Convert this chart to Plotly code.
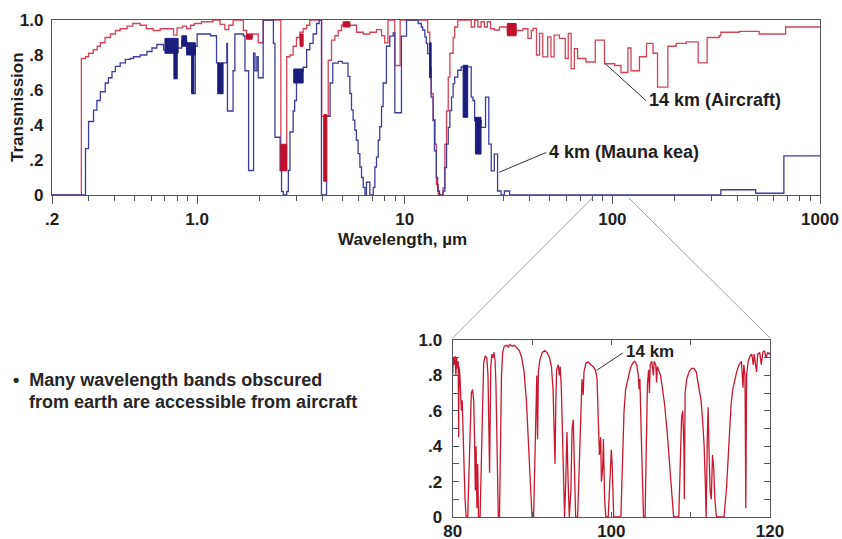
import math
import plotly.graph_objects as go

W, H = 842, 539
FONT = "Liberation Sans, Arial, Helvetica, sans-serif"
TXT = "#1e1e1e"

# ---------------- data: main chart (step spectra) ----------------
red_wl = [0.20, 0.277, 0.29, 0.30, 0.316, 0.33, 0.342, 0.36, 0.382, 0.404, 0.426, 0.46, 0.49,
          0.532, 0.57, 0.615, 0.664, 0.77, 0.80, 0.85, 0.89, 0.93, 0.97, 1.05, 1.19, 1.29, 1.36,
          1.42, 1.49, 1.67, 1.73, 1.84, 1.97, 2.08, 2.53, 2.70, 2.80, 2.90, 3.01, 3.13, 3.24, 3.37,
          3.49, 3.98, 4.08, 4.20, 4.28, 4.44, 4.61, 4.78, 4.96, 5.05, 5.44, 5.86, 6.31, 6.79, 7.31,
          7.73, 8.01, 8.3, 8.95, 9.5, 12.9, 13.2, 13.4, 13.7, 14.0, 14.2, 14.5, 15.3, 15.6, 15.9,
          16.2, 16.5, 17.1, 17.4, 18.0, 20.9, 21.7, 22.5, 23.3, 24.2, 25.0, 25.9, 27.0, 28.6, 31.2,
          34.4, 37.1, 39.2, 40.7, 41.5, 43.1, 44.6, 46.2, 48.8, 50.6, 52.4, 55.6, 59.3, 61.3, 63.3,
          65.6, 68.0, 74.6, 82.7, 91.6, 102.6, 110, 118.8, 123, 135, 146, 157, 165, 185, 203, 227,
          259, 286, 327, 333, 408, 509, 683, 1000]
red_tr = [0.0, 0.78, 0.79, 0.81, 0.83, 0.85, 0.87, 0.90, 0.92, 0.94, 0.95, 0.965, 0.98,
          0.97, 0.95, 0.94, 0.95, 0.914, 0.955, 0.965, 0.95, 0.97, 0.98, 0.99, 1.0, 0.975, 0.945,
          0.97, 1.0, 0.94, 0.90, 0.92, 0.87, 1.0, 0.14, 0.79, 0.80, 0.85, 0.90, 0.93, 0.95, 0.97,
          1.0, 0.45, 0.08, 0.45, 0.77, 0.885, 0.91, 0.94, 0.97, 0.975, 0.97, 0.93, 0.92, 0.93, 0.945,
          0.91, 0.87, 1.0, 0.74, 1.0, 0.93, 0.73, 0.58, 0.43, 0.29, 0.06, 0.0, 0.04, 0.29, 0.48,
          0.674, 0.81, 0.90, 0.96, 1.0, 0.96, 1.0, 0.96, 0.99, 0.96, 0.99, 0.95, 0.943, 0.96, 0.93,
          0.94, 0.95, 0.895, 0.94, 0.952, 0.80, 0.924, 0.789, 0.904, 0.789, 0.914, 0.895, 0.78, 0.924, 0.722,
          0.837, 0.78, 0.76, 0.885, 0.75, 0.74, 0.70, 0.84, 0.71, 0.79, 0.866, 0.81, 0.617, 0.85, 0.866, 0.875,
          0.755, 0.90, 0.91, 0.93, 0.935, 0.92, 0.96, 0.96]

blue_wl = [0.20, 0.29, 0.30, 0.317, 0.329, 0.342, 0.361, 0.374, 0.389, 0.404, 0.426, 0.451, 0.476,
           0.494, 0.532, 0.573, 0.606, 0.640, 0.689, 0.775, 0.80, 0.844, 0.89, 0.943, 0.98, 1.0,
           1.16, 1.24, 1.26, 1.33, 1.39, 1.40, 1.49, 1.52, 1.67, 1.70, 1.77, 1.87, 1.90, 1.94, 1.97,
           2.08, 2.33, 2.37, 2.51, 2.55, 2.60, 2.70, 2.75, 2.80, 2.90, 2.95, 3.01, 3.24, 3.37, 3.49,
           3.62, 3.76, 3.87, 3.97, 4.2, 4.37, 4.5, 4.78, 5.0, 5.33, 5.44, 5.54, 5.64, 5.75, 5.85,
           5.96, 6.08, 6.19, 6.31, 6.43, 6.54, 6.79, 7.05, 7.18, 7.31, 7.45, 7.58, 7.73, 7.87, 8.16,
           8.47, 8.80, 8.96, 9.64, 10.2, 11.6, 12.0, 12.2, 12.5, 12.7, 12.9, 13.2, 13.4, 13.7, 13.9,
           14.2, 14.4, 14.7, 15.3, 15.6, 15.9, 16.2, 16.5, 16.8, 17.1, 17.4, 18.0, 18.7, 20.1, 20.9,
           21.3, 21.7, 23.3, 24.5, 25.4, 26.1, 27.0, 28.0, 29.1, 30.2, 32.0, 333, 490, 670, 1000]
blue_tr = [0.0, 0.265, 0.42, 0.485, 0.54, 0.59, 0.64, 0.67, 0.705, 0.735, 0.755, 0.775, 0.78,
           0.79, 0.80, 0.82, 0.84, 0.86, 0.83, 0.665, 0.84, 0.88, 0.83, 0.58, 0.85, 0.92,
           0.91, 0.755, 0.58, 0.755, 0.866, 0.48, 0.71, 0.92, 0.91, 0.71, 0.14, 0.81, 0.71, 0.79, 0.67,
           1.0, 0.866, 0.33, 0.14, 0.02, 0.0, 0.02, 0.14, 0.36, 0.48, 0.54, 0.71, 0.73, 0.83, 0.866,
           0.92, 0.98, 1.0, 0.0, 0.45, 0.64, 0.754, 0.764, 0.754, 0.678, 0.58, 0.486, 0.428, 0.37, 0.313,
           0.236, 0.16, 0.10, 0.044, 0.0, 0.073, 0.0, 0.044, 0.16, 0.217, 0.313, 0.39, 0.505, 0.64, 0.85,
           0.908, 0.927, 0.47, 0.908, 1.0, 0.98, 0.96, 0.943, 0.904, 0.866, 0.808, 0.674, 0.559, 0.425, 0.253,
           0.10, 0.023, 0.0, 0.023, 0.157, 0.291, 0.387, 0.483, 0.559, 0.636, 0.674, 0.713, 0.732, 0.732, 0.559,
           0.54, 0.425, 0.387, 0.559, 0.291, 0.138, 0.234, 0.023, 0.0, 0.023, 0.0, 0.03, 0.01, 0.224, 0.224]

# dense (unresolved) absorption regions drawn as dark blocks: start, end, low, high
blue_blk_x0 = [0.70, 0.775, 0.844, 0.89, 0.943, 1.26, 2.92, 13.2, 19.1, 21.9]
blue_blk_x1 = [0.81, 0.80, 0.89, 0.98, 0.965, 1.33, 3.24, 13.4, 20.1, 23.3]
blue_blk_lo = [0.81, 0.665, 0.85, 0.80, 0.58, 0.58, 0.64, 0.67, 0.444, 0.234]
blue_blk_hi = [0.895, 0.85, 0.91, 0.87, 0.85, 0.755, 0.72, 0.87, 0.741, 0.444]

red_blk_x0 = [1.73, 2.53, 3.13, 4.08, 5.05, 31.2]
red_blk_x1 = [1.84, 2.70, 3.24, 4.20, 5.44, 34.4]
red_blk_lo = [0.89, 0.14, 0.85, 0.08, 0.96, 0.91]
red_blk_hi = [0.92, 0.29, 0.92, 0.46, 0.99, 0.98]

# ---------------- data: inset (14 km, 80-120 um) ----------------
inset_wl = [80.0, 80.1, 80.2, 80.3, 80.4, 80.5, 80.6, 80.7, 80.75, 80.8, 80.9, 81.0, 81.1, 81.2, 81.3,
            81.4, 81.55, 81.7, 81.9, 82.05, 82.2, 82.35, 82.5, 82.65, 82.75, 82.85, 82.95, 83.05, 83.15,
            83.25, 83.45, 83.6, 83.75, 83.9, 84.1, 84.3, 84.45, 84.55, 84.65, 84.7, 84.8, 84.95, 85.1,
            85.2, 85.35, 85.45, 85.55, 85.65, 85.75, 85.9, 86.0, 86.15, 86.3, 86.5, 86.8, 87.0, 87.2,
            87.5, 87.8, 88.1, 88.4, 88.7, 89.0, 89.3, 89.55, 89.8, 90.0, 90.2, 90.35, 90.5, 90.6, 90.7,
            90.8, 91.0, 91.3, 91.6, 91.9, 92.2, 92.45, 92.65, 92.8, 92.9, 93.0, 93.1, 93.3, 93.45, 93.55,
            93.7, 93.85, 94.0, 94.1, 94.25, 94.4, 94.55, 94.7, 94.9, 95.05, 95.2, 95.35, 95.5, 95.75,
            95.95, 96.1, 96.3, 96.45, 96.55, 96.8, 97.1, 97.4, 97.7, 98.0, 98.2, 98.35, 98.5, 98.65,
            98.75, 98.9, 99.0, 99.15, 99.3, 99.6, 99.8, 100.0, 100.1, 100.3, 101.2, 101.4, 101.6, 101.8,
            102.1, 102.4, 102.7, 102.95, 103.2, 103.4, 103.5, 103.6, 103.75, 103.9, 104.05, 104.25,
            104.4, 104.55, 104.7, 104.8, 104.9, 105.1, 105.3, 105.4, 105.6, 105.7, 105.8, 106.0, 106.2,
            106.4, 106.7, 107.0, 107.3, 107.6, 107.85, 108.5, 108.7, 108.85, 109.0, 109.15, 109.2,
            109.3, 109.5, 109.8, 110.1, 110.4, 110.7, 110.9, 111.1, 111.3, 111.5, 111.7, 111.85, 111.95,
            112.1, 112.2, 112.3, 112.45, 112.6, 112.75, 112.9, 113.05, 113.25, 114.2, 114.5, 114.7,
            114.9, 115.1, 115.3, 115.55, 115.8, 116.1, 116.4, 116.6, 116.7, 116.85, 116.95, 117.05,
            117.25, 117.5, 117.7, 117.9, 118.0, 118.3, 118.45, 118.7, 118.9, 119.1, 119.3, 119.5,
            119.7, 119.9, 120.0]
inset_tr = [0.80, 0.90, 0.86, 0.91, 0.80, 0.90, 0.84, 0.88, 0.45, 0.85, 0.80, 0.72, 0.60, 0.66, 0.45,
            0.30, 0.10, 0.0, 0.0, 0.25, 0.55, 0.70, 0.72, 0.66, 0.45, 0.15, 0.40, 0.05, 0.30,
            0.0, 0.0, 0.35, 0.70, 0.87, 0.91, 0.90, 0.80, 0.55, 0.25, 0.45, 0.85, 0.92, 0.90,
            0.93, 0.88, 0.75, 0.45, 0.15, 0.0, 0.0, 0.40, 0.80, 0.93, 0.965, 0.97, 0.96, 0.975,
            0.965, 0.97, 0.955, 0.94, 0.90, 0.82, 0.65, 0.40, 0.12, 0.0, 0.0, 0.35, 0.70, 0.80, 0.44,
            0.82, 0.89, 0.93, 0.94, 0.93, 0.90, 0.85, 0.72, 0.50, 0.30, 0.65, 0.83, 0.86, 0.80, 0.85,
            0.72, 0.45, 0.15, 0.0, 0.20, 0.48, 0.20, 0.0, 0.15, 0.50, 0.55, 0.25, 0.0, 0.0,
            0.30, 0.60, 0.78, 0.69, 0.82, 0.87, 0.875, 0.86, 0.85, 0.83, 0.78, 0.55, 0.35, 0.45,
            0.20, 0.27, 0.44, 0.10, 0.0, 0.0, 0.20, 0.38, 0.30, 0.0, 0.0, 0.27, 0.60, 0.72,
            0.78, 0.84, 0.87, 0.88, 0.86, 0.80, 0.72, 0.78, 0.50, 0.20, 0.0, 0.0,
            0.40, 0.75, 0.83, 0.70, 0.86, 0.88, 0.80, 0.88, 0.86, 0.76, 0.85, 0.82, 0.80,
            0.74, 0.64, 0.50, 0.32, 0.12, 0.0, 0.0, 0.30, 0.56, 0.60, 0.40, 0.10,
            0.70, 0.78, 0.82, 0.84, 0.84, 0.82, 0.76, 0.70, 0.66, 0.55, 0.40, 0.18, 0.0,
            0.45, 0.62, 0.40, 0.15, 0.10, 0.35, 0.28, 0.10, 0.0, 0.0, 0.15, 0.30,
            0.50, 0.64, 0.72, 0.78, 0.82, 0.86, 0.88, 0.73, 0.86, 0.80, 0.05, 0.80,
            0.88, 0.91, 0.92, 0.86, 0.92, 0.82, 0.92, 0.93, 0.86, 0.93, 0.94, 0.90,
            0.93, 0.92, 0.93]

main_xtick_vals = [0.2, 1, 10, 100, 1000]
main_xtick_text = [".2", "1.0", "10", "100", "1000"]
main_ytick_vals = [0, 0.2, 0.4, 0.6, 0.8, 1.0]
main_ytick_text = ["0", ".2", ".4", ".6", ".8", "1.0"]
inset_xtick_vals = [80, 90, 100, 110, 120]
inset_xtick_text = ["80", "", "100", "", "120"]
inset_ytick_vals = [0, 0.1, 0.2, 0.3, 0.4, 0.5, 0.6, 0.7, 0.8, 0.9, 1.0]
inset_ytick_text = ["0", "", ".2", "", ".4", "", ".6", "", ".8", "", "1.0"]

label_aircraft = "14 km (Aircraft)"
label_mauna = "4 km (Mauna kea)"
label_inset = "14 km"
bullet_1 = "\u2022  Many wavelength bands obscured"
bullet_2 = "from earth are accessible from aircraft"

# label anchor points (curve point -> text point), in data units
lead_air = ([92.5, 145], [0.75, 0.54])
lead_mk = ([28.5, 48.0], [0.13, 0.243])
lead_in = ([98.2, 101.45], [0.83, 0.927])

# ---------------- layout geometry (pixels -> paper) ----------------
def px(x):
    return x / W

def py(y):
    return 1 - y / H

main_xd = [px(52), px(820)]
main_yd = [py(195), py(20)]
ins_xd = [px(452.7), px(770)]
ins_yd = [py(517), py(340)]
XMIN, XMAX = 0.2, 1000

RED = "#d24458"
RED_D = "#c0102c"
BLUE = "#3d3d9c"
BLUE_D = "#1c1c7c"
INSET_RED = "#c8182f"
AX = "#555560"


def blocks(x0s, x1s, los, his):
    xs, ys = [], []
    for a, b, lo, hi in zip(x0s, x1s, los, his):
        xs += [a, b, b, a, a, None]
        ys += [lo, lo, hi, hi, lo, None]
    return xs, ys


fig = go.Figure()

fig.add_trace(go.Scatter(x=red_wl, y=red_tr, mode="lines", line=dict(color=RED, width=1.3, shape="hv"),
                         xaxis="x", yaxis="y", hoverinfo="skip", showlegend=False))
fig.add_trace(go.Scatter(x=blue_wl, y=blue_tr, mode="lines", line=dict(color=BLUE, width=1.3, shape="hv"),
                         xaxis="x", yaxis="y", hoverinfo="skip", showlegend=False))
bx, by = blocks(blue_blk_x0, blue_blk_x1, blue_blk_lo, blue_blk_hi)
fig.add_trace(go.Scatter(x=bx, y=by, mode="lines", fill="toself", fillcolor=BLUE_D,
                         line=dict(color=BLUE_D, width=1), xaxis="x", yaxis="y",
                         hoverinfo="skip", showlegend=False))
rx, ry = blocks(red_blk_x0, red_blk_x1, red_blk_lo, red_blk_hi)
fig.add_trace(go.Scatter(x=rx, y=ry, mode="lines", fill="toself", fillcolor=RED_D,
                         line=dict(color=RED_D, width=1), xaxis="x", yaxis="y",
                         hoverinfo="skip", showlegend=False))

# leader lines
for lx, ly in (lead_air, lead_mk):
    fig.add_trace(go.Scatter(x=lx, y=ly, mode="lines", line=dict(color="#333", width=1),
                             xaxis="x", yaxis="y", hoverinfo="skip", showlegend=False))

# inset spectrum
fig.add_trace(go.Scatter(x=inset_wl, y=inset_tr, mode="lines", line=dict(color=INSET_RED, width=1.3),
                         xaxis="x2", yaxis="y2", hoverinfo="skip", showlegend=False))
fig.add_trace(go.Scatter(x=lead_in[0], y=lead_in[1], mode="lines", line=dict(color="#333", width=1),
                         xaxis="x2", yaxis="y2", hoverinfo="skip", showlegend=False))

minor_vals = []
for e in range(-1, 3):
    for m in range(2, 10):
        v = m * 10 ** e
        if XMIN < v < XMAX:
            minor_vals.append(v)

tickfont = dict(family=FONT, size=17, color=TXT, weight="bold")

fig.update_layout(
    template="none",
    width=W, height=H, margin=dict(l=0, r=0, t=0, b=0, autoexpand=False),
    paper_bgcolor="white", plot_bgcolor="white",
    xaxis=dict(type="log", range=[math.log10(XMIN), math.log10(XMAX)], domain=main_xd, anchor="y",
               automargin=False,
               showline=True, linecolor=AX, linewidth=1.2, mirror=True, showgrid=False, zeroline=False,
               tickmode="array", tickvals=main_xtick_vals, ticktext=main_xtick_text,
               ticks="outside", ticklen=8, tickwidth=1.3, tickcolor=AX, tickfont=tickfont,
               ticklabelstandoff=0,
               minor=dict(tickmode="array", tickvals=minor_vals, ticks="outside", ticklen=5,
                          tickwidth=1.1, tickcolor=AX, showgrid=False)),
    yaxis=dict(range=[0, 1.0], domain=main_yd, anchor="x", automargin=False,
               showline=True, linecolor=AX, linewidth=1.2,
               mirror=True, showgrid=False, zeroline=False, tickmode="array",
               tickvals=main_ytick_vals, ticktext=main_ytick_text, ticks="", tickfont=tickfont,
               ticklabelstandoff=4),
    xaxis2=dict(range=[80, 120], domain=ins_xd, anchor="y2", automargin=False,
                showline=True, linecolor=AX, linewidth=1.2,
                mirror="ticks", showgrid=False, zeroline=False, tickmode="array",
                tickvals=inset_xtick_vals, ticktext=inset_xtick_text, ticks="inside", ticklen=5,
                tickcolor=AX, tickfont=tickfont, ticklabelstandoff=-2),
    yaxis2=dict(range=[0, 1.0], domain=ins_yd, anchor="x2", automargin=False,
                showline=True, linecolor=AX, linewidth=1.2,
                mirror="ticks", showgrid=False, zeroline=False, tickmode="array",
                tickvals=inset_ytick_vals, ticktext=inset_ytick_text, ticks="inside", ticklen=6,
                tickcolor=AX, tickfont=tickfont, ticklabelstandoff=6),
)

# connector lines from main axis (80 and 120 um) to the inset corners
def main_xpaper(lam):
    f = (math.log10(lam) - math.log10(XMIN)) / (math.log10(XMAX) - math.log10(XMIN))
    return main_xd[0] + f * (main_xd[1] - main_xd[0])

for lam, corner in ((80, ins_xd[0]), (120, ins_xd[1])):
    fig.add_shape(type="line", xref="paper", yref="paper",
                  x0=main_xpaper(lam), y0=main_yd[0] - 3 / H, x1=corner, y1=ins_yd[1] + 2 / H,
                  line=dict(color="#a0a0a0", width=1))

ann_font = dict(family=FONT, size=18, color=TXT, weight="bold")
fig.add_annotation(x=math.log10(lead_air[0][1]) + 0.005, y=lead_air[1][1] + 0.0, xref="x", yref="y",
                   text=label_aircraft, showarrow=False, xanchor="left", yanchor="middle", font=ann_font)
fig.add_annotation(x=math.log10(lead_mk[0][1]) + 0.005, y=lead_mk[1][1], xref="x", yref="y",
                   text=label_mauna, showarrow=False, xanchor="left", yanchor="middle", font=ann_font)
fig.add_annotation(x=lead_in[0][1] + 0.2, y=lead_in[1][1] + 0.01, xref="x2", yref="y2",
                   text=label_inset, showarrow=False, xanchor="left", yanchor="middle",
                   font=dict(family=FONT, size=17, color=TXT, weight="bold"))

axt_font = dict(family=FONT, size=17, color=TXT, weight="bold")
fig.add_annotation(x=px(17), y=py(107), xref="paper", yref="paper", text="Transmission",
                   textangle=-90, showarrow=False, xanchor="center", yanchor="middle", font=axt_font)
fig.add_annotation(x=px(402), y=py(239), xref="paper", yref="paper", text="Wavelength, \u00b5m",
                   showarrow=False, xanchor="center", yanchor="middle", font=axt_font)

bullet_font = dict(family=FONT, size=18, color="#262626", weight="bold")
fig.add_annotation(x=px(11), y=py(380), xref="paper", yref="paper", text=bullet_1,
                   showarrow=False, xanchor="left", yanchor="middle", font=bullet_font)
fig.add_annotation(x=px(27), y=py(402), xref="paper", yref="paper", text=bullet_2,
                   showarrow=False, xanchor="left", yanchor="middle", font=bullet_font)

fig.write_html("out.html", config={"displayModeBar": False},
               post_script="document.body.style.margin='0px';document.body.style.overflow='hidden';")
